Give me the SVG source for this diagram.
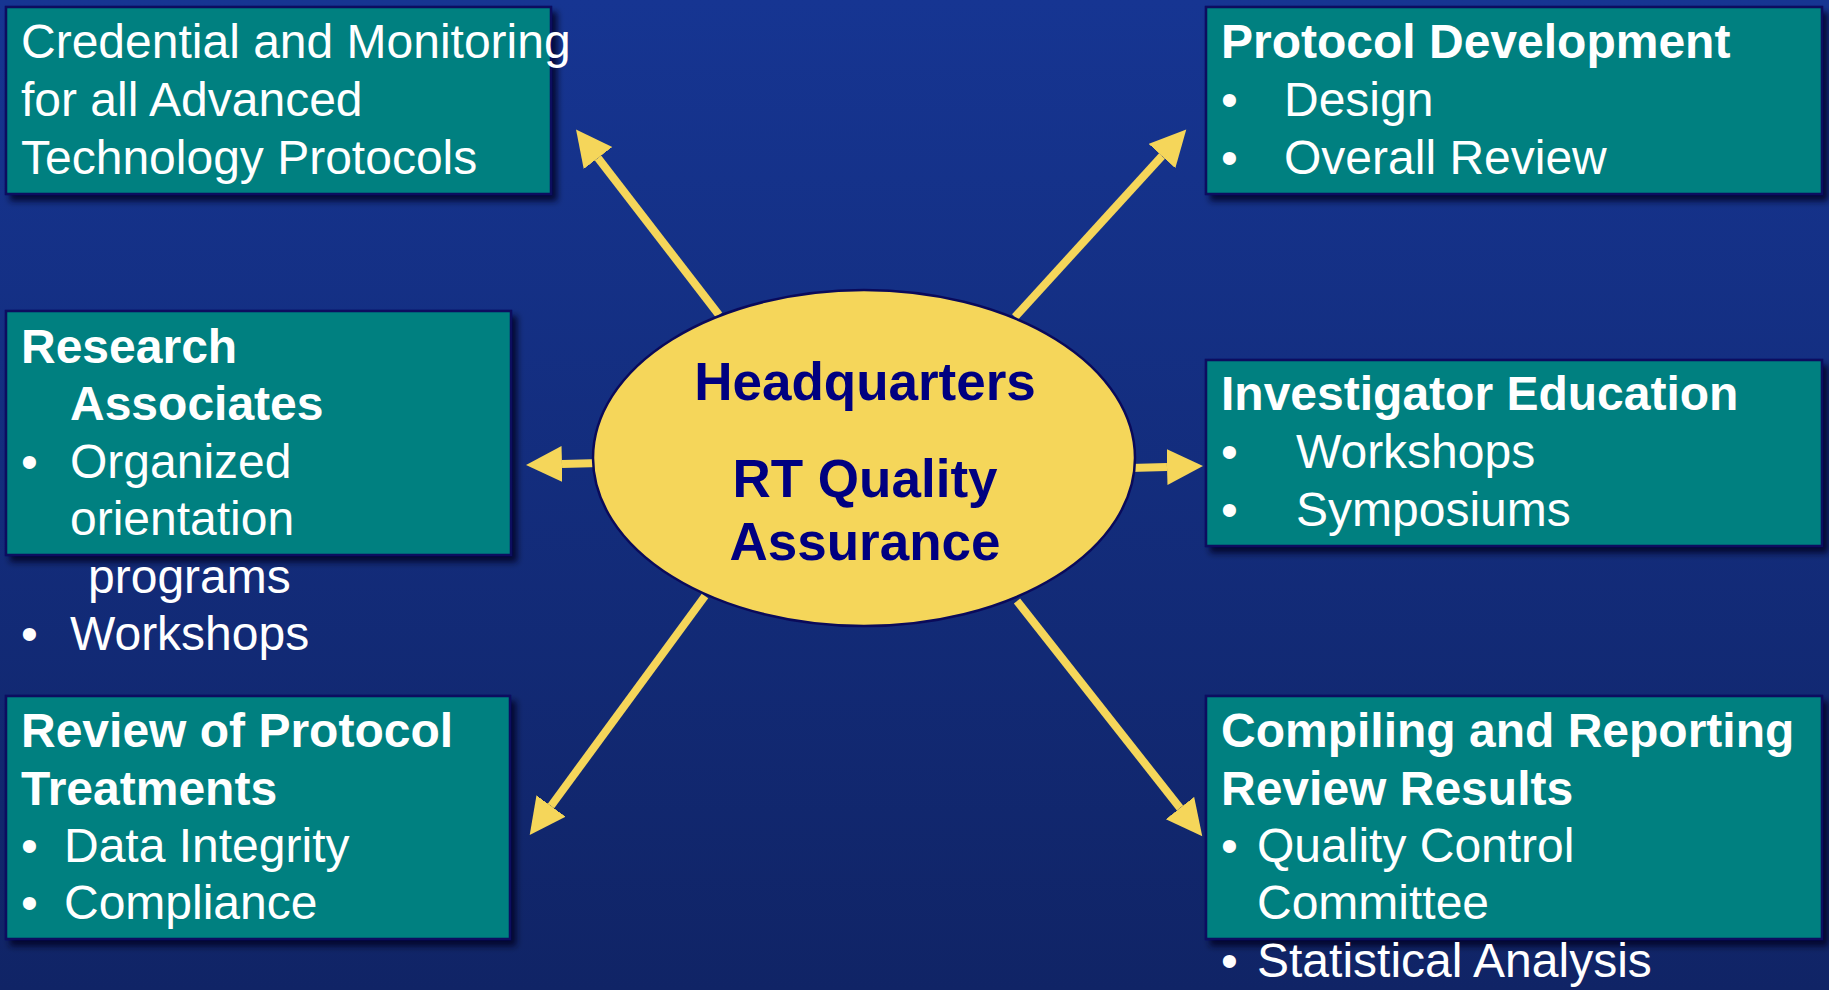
<svg xmlns="http://www.w3.org/2000/svg" width="1829" height="990" viewBox="0 0 1829 990">
<defs>
<linearGradient id="bg" x1="0" y1="0" x2="0" y2="1">
<stop offset="0" stop-color="#163592"/>
<stop offset="1" stop-color="#102466"/>
</linearGradient>
<filter id="sh" x="-5%" y="-5%" width="115%" height="120%">
<feDropShadow dx="5" dy="6" stdDeviation="3" flood-color="#000022" flood-opacity="0.8"/>
</filter>
<marker id="ah" markerUnits="userSpaceOnUse" markerWidth="40" markerHeight="40" refX="0" refY="18" orient="auto">
<path d="M0,0 L36,18 L0,36 Z" fill="#f5d65a"/>
</marker>
<style>
.box{fill:#008080;stroke:#0b0b5e;stroke-width:2.5;filter:url(#sh)}
.t{font-family:"Liberation Sans",Arial,sans-serif;font-size:48px;fill:#ffffff}
.b{font-weight:bold}
.hq{font-family:"Liberation Sans",Arial,sans-serif;font-size:53px;font-weight:bold;fill:#000080;text-anchor:middle}
.arr{stroke:#f5d65a;stroke-width:8;fill:none;marker-end:url(#ah)}
</style>
</defs>
<rect x="0" y="0" width="1829" height="990" fill="url(#bg)"/>
<g id="connectors">
<line class="arr" x1="719" y1="315" x2="598" y2="158"/>
<line class="arr" x1="1015" y1="317" x2="1162" y2="156"/>
<line class="arr" x1="600" y1="463" x2="562" y2="464"/>
<line class="arr" x1="1130" y1="468" x2="1167" y2="467"/>
<line class="arr" x1="705" y1="596" x2="551" y2="806"/>
<line class="arr" x1="1017" y1="601" x2="1180" y2="808"/>
</g>
<g id="hq">
<ellipse cx="864" cy="458" rx="271" ry="168" fill="#f5d65a" stroke="#0a0a5a" stroke-width="2.5"/>
<text class="hq" x="865" y="400">Headquarters</text>
<text class="hq" x="865" y="497">RT Quality</text>
<text class="hq" x="865" y="560">Assurance</text>
</g>
<g id="credential">
<rect class="box" x="6" y="7" width="545" height="187"/>
<text class="t" x="21" y="58">Credential and Monitoring</text>
<text class="t" x="21" y="116">for all Advanced</text>
<text class="t" x="21" y="174">Technology Protocols</text>
</g>
<g id="protocol-development">
<rect class="box" x="1206" y="7" width="616" height="187"/>
<text class="t b" x="1221" y="58">Protocol Development</text>
<text class="t" x="1221" y="116">•</text>
<text class="t" x="1284" y="116">Design</text>
<text class="t" x="1221" y="174">•</text>
<text class="t" x="1284" y="174">Overall Review</text>
</g>
<g id="research-associates">
<rect class="box" x="6" y="311" width="505" height="244"/>
<text class="t b" x="21" y="363">Research</text>
<text class="t b" x="70" y="420">Associates</text>
<text class="t" x="21" y="478">•</text>
<text class="t" x="70" y="478">Organized</text>
<text class="t" x="70" y="535">orientation</text>
<text class="t" x="88" y="593">programs</text>
<text class="t" x="21" y="650">•</text>
<text class="t" x="70" y="650">Workshops</text>
</g>
<g id="investigator-education">
<rect class="box" x="1206" y="360" width="616" height="186"/>
<text class="t b" x="1221" y="410">Investigator Education</text>
<text class="t" x="1221" y="468">•</text>
<text class="t" x="1296" y="468">Workshops</text>
<text class="t" x="1221" y="526">•</text>
<text class="t" x="1296" y="526">Symposiums</text>
</g>
<g id="review-treatments">
<rect class="box" x="6" y="696" width="504" height="243"/>
<text class="t b" x="21" y="747">Review of Protocol</text>
<text class="t b" x="21" y="805">Treatments</text>
<text class="t" x="21" y="862">•</text>
<text class="t" x="64" y="862">Data Integrity</text>
<text class="t" x="21" y="919">•</text>
<text class="t" x="64" y="919">Compliance</text>
</g>
<g id="compiling-reporting">
<rect class="box" x="1206" y="696" width="616" height="243"/>
<text class="t b" x="1221" y="747">Compiling and Reporting</text>
<text class="t b" x="1221" y="805">Review Results</text>
<text class="t" x="1221" y="862">•</text>
<text class="t" x="1257" y="862">Quality Control</text>
<text class="t" x="1257" y="919">Committee</text>
<text class="t" x="1221" y="977">•</text>
<text class="t" x="1257" y="977">Statistical Analysis</text>
</g>
</svg>
